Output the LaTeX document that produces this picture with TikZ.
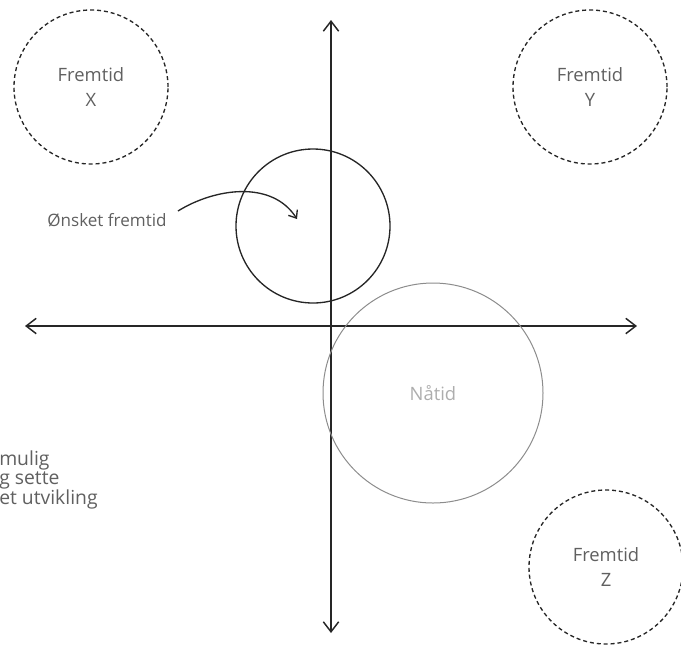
\documentclass[tikz,border=0pt]{standalone}
\usepackage{fontspec}
\setmainfont{Open Sans}
\usetikzlibrary{arrows.meta}
\definecolor{txt}{HTML}{606060}
\definecolor{lighttxt}{HTML}{ADADAD}
\definecolor{nowline}{HTML}{8C8C8C}
\tikzset{
  barb/.tip={Straight Barb[length=7.5pt,width=11.5pt,line width=1.1pt]},
  axisline/.style={line width=1.1pt, draw=black!85, barb-barb},
  futurebox/.style={circle, draw=black!85, dashed, dash pattern=on 3pt off 2.2pt, line width=1.0pt, minimum size=115.5pt, inner sep=0pt, align=center, text=txt, font=\fontsize{13.8}{18.5}\selectfont},
  wishbox/.style={circle, draw=black!85, line width=1.0pt, minimum size=115.5pt, inner sep=0pt},
  nowbox/.style={circle, draw=nowline, line width=0.75pt, minimum size=165pt, inner sep=0pt, text=lighttxt, font=\fontsize{13.8}{18.5}\selectfont},
  plainlabel/.style={text=txt, inner sep=0pt, font=\fontsize{12.8}{13}\selectfont},
  curvearrow/.style={line width=1.0pt, draw=black!85, -{Straight Barb[length=5pt,width=8pt,line width=1.0pt]}}
}
\begin{document}
\begin{tikzpicture}[x=0.75pt,y=-0.75pt]
\useasboundingbox (0,0) rectangle (681,644);
% axes
\coordinate (vbot) at (331,633);
\coordinate (vtop) at (331,20);
\coordinate (hleft) at (25,326);
\coordinate (hright) at (637,326);
\draw[axisline] (vbot) -- (vtop);
\draw[axisline] (hleft) -- (hright);
% circles
\node[futurebox] (fx) at (91,87) {Fremtid\\X};
\node[futurebox] (fy) at (590,87) {Fremtid\\Y};
\node[futurebox] (fz) at (606,567) {Fremtid\\Z};
\node[wishbox] (wish) at (313,226) {};
\node[nowbox] (now) at (433,393) {Nåtid};
% label and curved arrow
\node[plainlabel] (wishlabel) at (107,220) {Ønsket fremtid};
\coordinate (arrstart) at (178,211);
\coordinate (arrend) at (297,219);
\draw[curvearrow] (arrstart) .. controls (215,188) and (272,180) .. (arrend);
% cut-off text at left
\node[plainlabel, anchor=west, align=left, font=\fontsize{14.5}{12.6}\selectfont] (lefttext) at (-1,480) {mulig\\g sette\\et utvikling};
\end{tikzpicture}
\end{document}
